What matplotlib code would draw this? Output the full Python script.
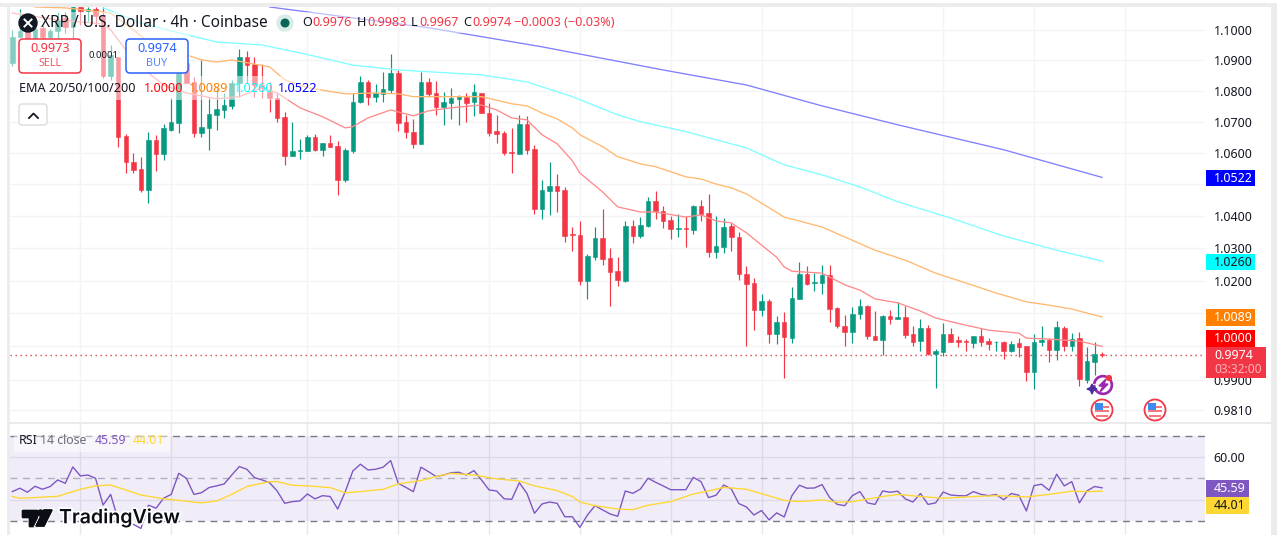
import matplotlib
matplotlib.use('Agg')
import matplotlib.pyplot as plt
from matplotlib.patches import Rectangle, Circle, FancyBboxPatch, Polygon, Wedge
from matplotlib.ticker import NullFormatter, NullLocator
import matplotlib.patheffects as pe

plt.rcParams['font.family'] = ['Noto Sans', 'DejaVu Sans']

# 4h candles
opens = [1.0890,1.0975,1.1010,1.0970,1.1007,1.0977,1.0997,1.1040,1.1010,1.1076,
         1.1063,1.1070,1.1050,1.0849,1.0911,1.0655,1.0572,1.0549,1.0482,1.0642,
         1.0597,1.0674,1.0697,1.0891,1.0829,1.0664,1.0680,1.0722,1.0738,1.0751,
         1.0826,1.0911,1.0888,1.0819,1.0796,1.0777,1.0716,1.0591,1.0607,1.0607,
         1.0652,1.0610,1.0632,1.0623,1.0514,1.0607,1.0764,1.0829,1.0781,1.0790,
         1.0803,1.0858,1.0700,1.0668,1.0629,1.0829,1.0793,1.0748,1.0761,1.0774,
         1.0781,1.0764,1.0793,1.0728,1.0671,1.0664,1.0604,1.0597,1.0693,1.0613,
         1.0422,1.0479,1.0495,1.0482,1.0345,1.0342,1.0199,1.0272,1.0332,1.0269,
         1.0229,1.0199,1.0369,1.0338,1.0369,1.0448,1.0416,1.0388,1.0360,1.0363,
         1.0357,1.0432,1.0410,1.0288,1.0304,1.0369,1.0335,1.0220,1.0193,1.0110,
         1.0138,1.0037,1.0074,1.0025,1.0144,1.0220,1.0193,1.0193,1.0217,1.0116,
         1.0061,1.0043,1.0098,1.0122,1.0031,1.0019,1.0092,1.0083,1.0089,1.0037,
         1.0016,1.0055,0.9977,0.9983,1.0037,1.0019,1.0017,1.0010,1.0031,1.0016,
         1.0012,1.0013,0.9986,1.0010,1.0001,0.9923,1.0013,1.0019,0.9989,1.0055,
         1.0001,1.0025,0.9899,0.9953,0.9976]
highs = [1.0998,1.1070,1.1020,1.1020,1.1015,1.1003,1.1060,1.1060,1.1090,1.1076,
         1.1076,1.1076,1.1076,1.0950,1.0911,1.0661,1.0600,1.0588,1.0668,1.0658,
         1.0693,1.0777,1.0874,1.0900,1.0845,1.0901,1.0781,1.0810,1.0793,1.0836,
         1.0937,1.0931,1.0911,1.0888,1.0829,1.0793,1.0732,1.0700,1.0645,1.0658,
         1.0661,1.0632,1.0658,1.0639,1.0616,1.0793,1.0849,1.0836,1.0823,1.0862,
         1.0921,1.0868,1.0722,1.0709,1.0862,1.0842,1.0832,1.0796,1.0810,1.0787,
         1.0793,1.0823,1.0793,1.0761,1.0722,1.0671,1.0680,1.0722,1.0719,1.0626,
         1.0514,1.0572,1.0533,1.0492,1.0366,1.0385,1.0282,1.0366,1.0422,1.0300,
         1.0272,1.0385,1.0388,1.0397,1.0460,1.0479,1.0432,1.0401,1.0407,1.0401,
         1.0435,1.0451,1.0470,1.0401,1.0394,1.0379,1.0351,1.0245,1.0208,1.0159,
         1.0144,1.0092,1.0104,1.0180,1.0257,1.0245,1.0223,1.0248,1.0248,1.0119,
         1.0095,1.0119,1.0144,1.0125,1.0107,1.0095,1.0110,1.0135,1.0122,1.0061,
         1.0083,1.0064,0.9992,1.0071,1.0055,1.0031,1.0022,1.0031,1.0055,1.0025,
         1.0016,1.0016,1.0016,1.0025,1.0001,1.0037,1.0061,1.0025,1.0077,1.0061,
         1.0040,1.0043,0.9998,1.0013,0.9983]
lows = [1.0882,1.0975,1.0960,1.0970,1.0970,1.0967,1.0960,1.0990,1.0968,1.1017,
        1.1030,1.1017,1.0842,1.0836,1.0620,1.0536,1.0536,1.0476,1.0441,1.0543,
        1.0578,1.0671,1.0664,1.0826,1.0652,1.0652,1.0610,1.0674,1.0712,1.0741,
        1.0781,1.0826,1.0781,1.0777,1.0732,1.0700,1.0562,1.0591,1.0581,1.0607,
        1.0607,1.0591,1.0620,1.0467,1.0508,1.0600,1.0761,1.0754,1.0764,1.0764,
        1.0793,1.0671,1.0648,1.0616,1.0629,1.0781,1.0722,1.0690,1.0709,1.0690,
        1.0700,1.0719,1.0728,1.0655,1.0632,1.0594,1.0536,1.0597,1.0597,1.0407,
        1.0391,1.0404,1.0413,1.0320,1.0291,1.0187,1.0144,1.0263,1.0248,1.0122,
        1.0183,1.0196,1.0316,1.0332,1.0366,1.0391,1.0363,1.0329,1.0335,1.0304,
        1.0345,1.0385,1.0272,1.0269,1.0285,1.0291,1.0202,1.0001,1.0049,1.0092,
        1.0010,1.0007,0.9905,1.0010,1.0144,1.0187,1.0168,1.0159,1.0074,1.0055,
        1.0001,1.0010,1.0083,1.0022,1.0019,0.9974,1.0067,1.0083,1.0025,1.0001,
        0.9986,0.9974,0.9875,0.9971,1.0013,0.9998,0.9986,0.9995,1.0001,0.9989,
        0.9986,0.9962,0.9983,0.9968,0.9896,0.9872,1.0001,0.9953,0.9959,0.9986,
        0.9986,0.9881,0.9890,0.9914,0.9967]
closes = [1.0978,1.0997,1.0967,1.1003,1.0977,1.0997,1.1033,1.1010,1.1076,1.1063,
          1.1070,1.1046,1.0849,1.0917,1.0652,1.0572,1.0546,1.0482,1.0642,1.0597,
          1.0680,1.0700,1.0858,1.0826,1.0664,1.0684,1.0725,1.0741,1.0754,1.0826,
          1.0911,1.0884,1.0819,1.0810,1.0777,1.0712,1.0591,1.0607,1.0610,1.0652,
          1.0610,1.0632,1.0620,1.0514,1.0610,1.0764,1.0829,1.0781,1.0793,1.0806,
          1.0858,1.0697,1.0668,1.0629,1.0829,1.0790,1.0748,1.0764,1.0777,1.0784,
          1.0761,1.0796,1.0728,1.0664,1.0661,1.0600,1.0600,1.0693,1.0610,1.0422,
          1.0482,1.0495,1.0479,1.0338,1.0342,1.0199,1.0276,1.0332,1.0266,1.0226,
          1.0202,1.0369,1.0338,1.0372,1.0448,1.0416,1.0385,1.0360,1.0363,1.0360,
          1.0432,1.0407,1.0288,1.0307,1.0366,1.0335,1.0220,1.0190,1.0110,1.0138,
          1.0037,1.0074,1.0028,1.0147,1.0220,1.0190,1.0196,1.0217,1.0113,1.0061,
          1.0043,1.0098,1.0122,1.0031,1.0019,1.0092,1.0083,1.0089,1.0034,1.0013,
          1.0055,0.9977,0.9986,1.0037,1.0013,1.0013,1.0014,1.0031,1.0013,1.0007,
          1.0014,0.9986,1.0007,0.9998,0.9923,1.0013,1.0019,0.9989,1.0058,1.0001,
          1.0022,0.9902,0.9956,0.9977,0.9974]

# moving averages, read at the bars where they bend
ema20_bars = [0,6,12,13,15,18,20,23,27,30,33,35,38,41,44,45,47,50,53,55,58,62,64,66,68,70,72,74,75,78,
              80,83,85,89,91,93,95,97,99,101,102,103,107,110,112,114,117,120,122,126,129,133,134,137,141,144]
ema20 = [1.1056,1.1033,1.1020,1.1000,1.0934,1.0858,1.0819,1.0793,1.0774,1.0781,1.0810,1.0793,1.0745,1.0716,
         1.0680,1.0684,1.0712,1.0738,1.0719,1.0735,1.0745,1.0754,1.0738,1.0712,1.0706,1.0658,1.0629,1.0575,
         1.0536,1.0476,1.0429,1.0413,1.0413,1.0397,1.0404,1.0385,1.0379,1.0348,1.0310,1.0272,1.0242,1.0229,
         1.0223,1.0187,1.0171,1.0144,1.0132,1.0107,1.0086,1.0064,1.0049,1.0040,1.0025,1.0022,1.0016,1.0000]
ema50_bars = [3,7,13,16,18,21,25,27,29,34,36,39,44,48,51,53,62,66,68,70,72,74,75,78,80,83,85,89,91,93,
              95,97,99,102,107,110,114,118,122,126,130,134,137,140,144]
ema50 = [1.1076,1.1073,1.1056,1.1000,1.0960,1.0934,1.0901,1.0894,1.0901,1.0878,1.0836,1.0810,1.0790,1.0793,
         1.0790,1.0781,1.0781,1.0758,1.0751,1.0728,1.0709,1.0680,1.0658,1.0620,1.0588,1.0565,1.0556,1.0524,
         1.0517,1.0501,1.0489,1.0470,1.0441,1.0397,1.0366,1.0335,1.0294,1.0263,1.0223,1.0193,1.0162,1.0135,
         1.0125,1.0113,1.0089]
ema100_bars = [12,17,22,27,33,38,45,51,62,68,74,80,83,89,93,97,102,107,112,117,124,131,138,144]
ema100 = [1.1073,1.1023,1.0990,1.0960,1.0950,1.0924,1.0884,1.0868,1.0852,1.0829,1.0781,1.0722,1.0700,1.0668,
          1.0642,1.0616,1.0562,1.0530,1.0492,1.0445,1.0394,1.0338,1.0294,1.0260]
ema200_bars = [34,55,70,86,97,107,117,131,144]
ema200 = [1.1076,1.1007,1.0944,1.0868,1.0819,1.0751,1.0690,1.0610,1.0522]

rsi = [43.8,45.4,43.5,46.3,44.9,46.2,49.3,47.7,55.4,51.2,51.6,50.1,37.5,42.5,30.5,29.7,28.4,26.5,37.4,36.0,
       40.7,42.5,52.4,50.1,42.5,43.3,45.7,46.5,47.4,51.6,55.6,54.3,50.4,49.3,48.0,44.1,38.3,39.1,39.4,42.7,
       40.4,41.9,41.5,35.6,43.8,53.5,56.7,54.0,54.3,55.3,58.4,47.7,45.8,43.8,55.3,53.2,50.9,51.6,52.7,52.9,
       51.6,53.7,49.3,44.6,44.1,40.4,40.2,48.0,43.0,33.6,38.0,38.9,38.3,32.0,32.0,27.0,32.8,37.2,35.2,33.3,
       32.2,44.1,43.0,45.0,50.1,48.2,46.5,44.7,44.7,44.7,50.5,48.5,41.0,42.1,46.9,45.1,38.2,36.6,32.8,34.9,
       30.5,33.8,31.9,41.8,46.8,45.4,45.5,47.1,41.0,37.8,37.2,41.9,43.8,38.5,37.8,44.1,43.5,44.0,40.4,38.9,
       42.9,37.8,38.5,43.6,42.2,41.9,41.8,43.8,42.5,41.9,42.4,40.0,42.9,42.1,34.7,46.6,47.3,44.4,52.0,46.5,
       48.5,38.5,44.1,46.2,45.59]
rsi_ma_bars = [0,1,3,6,9,11,13,15,17,20,22,25,27,29,31,34,35,37,39,42,44,46,49,51,54,56,58,61,64,67,
               69,72,74,75,77,80,82,84,87,90,92,94,97,100,102,104,107,109,111,115,117,120,123,126,130,134,137,140,142,144]
rsi_ma = [41.5,40.7,41.0,41.6,44.9,46.5,46.9,44.6,42.2,40.4,39.7,38.5,39.4,42.5,46.2,48.5,48.5,46.8,46.5,45.7,
          43.3,43.8,44.9,47.4,49.0,50.9,52.4,51.6,49.8,48.8,46.5,44.3,41.5,38.9,37.2,35.6,35.3,37.4,39.1,42.7,
          44.1,45.8,44.9,41.8,39.7,39.1,39.9,38.8,39.1,41.5,42.5,41.5,40.7,41.3,41.9,41.3,42.5,44.0,43.8,44.01]

price_ticks = [1.10,1.09,1.08,1.07,1.06,1.05,1.04,1.03,1.02,1.01,1.00,0.99,0.981]
price_labels = ['1.1000','1.0900','1.0800','1.0700','1.0600','','1.0400','1.0300','1.0200','','','0.9900','0.9810']
rsi_ticks = [60,40]
time_grid = [9,21,39,51,63,75,87,99,111,123,135,147]

UP = '#089981'
DOWN = '#f23645'
W, H = 1277, 535

fig = plt.figure(figsize=(W/100, H/100), dpi=100, facecolor='white')

# price pane
ax = fig.add_axes([10/W, (H-423)/H, 1195/W, 416/H])
ax.set_yscale('log')
ax.set_xlim(-0.3, 157.6)
ax.set_ylim(0.9772, 1.1076)
ax.set_yticks(price_ticks)
ax.set_yticklabels(price_labels, fontsize=9.0, color='#131722')
ax.yaxis.tick_right()
ax.yaxis.set_minor_locator(NullLocator())
ax.yaxis.set_minor_formatter(NullFormatter())
ax.tick_params(axis='y', length=0, pad=6.2)
ax.set_xticks(time_grid)
ax.tick_params(axis='x', length=0, labelbottom=False)
ax.grid(True, color='#f4f4f6', lw=1)
ax.set_axisbelow(True)
for s in ax.spines.values():
    s.set_visible(False)

bars = list(range(len(opens)))
colours = [UP if c >= o else DOWN for o, c in zip(opens, closes)]
ax.vlines(bars, lows, highs, colors=colours, lw=0.85, zorder=3)
ax.bar(bars, [abs(c-o) for o, c in zip(opens, closes)], bottom=[min(o, c) for o, c in zip(opens, closes)],
       width=0.6, color=colours, edgecolor=colours, lw=0.4, zorder=3)

ax.plot(ema20_bars, ema20, color='#ff8a8a', lw=0.95, zorder=4)
ax.plot(ema50_bars, ema50, color='#ffb870', lw=0.95, zorder=4)
ax.plot(ema100_bars, ema100, color='#80ffff', lw=0.95, zorder=4)
ax.plot(ema200_bars, ema200, color='#8080ff', lw=0.95, zorder=4)
ax.axhline(closes[-1], color='#d8404c', lw=1, ls=(0, (1, 2.6)), zorder=2)

# rsi pane
ax2 = fig.add_axes([10/W, 0, 1195/W, (H-424)/H])
ax2.set_xlim(-0.3, 157.6)
ax2.set_ylim(23.4, 75.6)
ax2.axhspan(30, 70, color='#7e57c2', alpha=0.1, lw=0)
ax2.axhline(70, color='#787b86', lw=1, ls=(0, (5, 4)))
ax2.axhline(50, color='#b2aebd', lw=1, ls=(0, (5, 4)))
ax2.axhline(30, color='#787b86', lw=1, ls=(0, (5, 4)))
ax2.set_xticks(time_grid)
ax2.set_yticks(rsi_ticks)
ax2.set_yticklabels(['60.00', ''], fontsize=9.0, color='#131722')
ax2.yaxis.tick_right()
ax2.tick_params(axis='y', length=0, pad=6.2)
ax2.tick_params(axis='x', length=0, labelbottom=False)
ax2.grid(True, color='#e9e8ef', lw=1)
ax2.set_axisbelow(True)
for s in ax2.spines.values():
    s.set_visible(False)
ax2.plot(bars, rsi, color='#7e57c2', lw=1.0, zorder=3)
ax2.plot(rsi_ma_bars, rsi_ma, color='#fdd835', lw=1.0, zorder=4)

# everything drawn on top of the panes, in pixel coordinates
ov = fig.add_axes([0, 0, 1, 1], zorder=10)
ov.set_xlim(0, W)
ov.set_ylim(H, 0)
ov.axis('off')
ov.patch.set_alpha(0)


def rect(x0, y0, x1, y1, **kw):
    ov.add_patch(Rectangle((x0, y0), x1-x0, y1-y0, lw=kw.pop('lw', 0), **kw))


def tag(x0, y0, x1, y1, bg, label, fg='white'):
    rect(x0, y0, x1, y1, color=bg)
    ov.text(x0+8, (y0+y1)/2, label, color=fg, fontsize=9.0, va='center', ha='left', weight='medium')


# window frame
rect(0, 3, W, 7, color='#ececec')
rect(7, 3, 10, H, color='#ececec')
rect(1271, 3, W, H, color='#ececec')
ov.plot([10, 1271], [423, 423], color='#e8e8ea', lw=1.2)

# legend washes
rect(10, 12, 625, 33, color='white', alpha=0.5)
rect(10, 33, 190, 76, color='white', alpha=0.5)
rect(10, 76, 320, 100, color='white', alpha=0.5)
rect(14, 436, 170, 452, color='white', alpha=0.5)

# header
ov.add_patch(Circle((28, 23), 9, color='#131722'))
ov.plot([24.5, 31.5], [19.5, 26.5], color='white', lw=1.4)
ov.plot([24.5, 31.5], [26.5, 19.5], color='white', lw=1.4)
ov.text(41, 23, 'XRP / U.S. Dollar · 4h · Coinbase', fontsize=11.1, color='#131722', va='center')
ov.add_patch(Circle((285, 23), 8, color='#d9ece8'))
ov.add_patch(Circle((285, 23), 3.8, color='#056656'))
ohlc_row = [(302, 'O', '#131722'), (312, '0.9976', DOWN), (357, 'H', '#131722'), (367, '0.9983', DOWN),
            (411, 'L', '#131722'), (419, '0.9967', DOWN), (463, 'C', '#131722'), (472, '0.9974', DOWN),
            (514, '−0.0003 (−0.03%)', DOWN)]
for x, s, c in ohlc_row:
    ov.text(x, 23, s, fontsize=9.1, color=c, va='center')

# sell / buy buttons
for x0, c, price, word, soft in [(19, DOWN, '0.9973', 'SELL', '#f7525f'), (126, '#2962ff', '0.9974', 'BUY', '#5b85ff')]:
    ov.add_patch(FancyBboxPatch((x0+3, 42), 56, 28, boxstyle='round,pad=3,rounding_size=4', fc='white', ec=c, lw=1.1))
    ov.text(x0+31, 49, price, fontsize=9.2, color=c, ha='center', va='center')
    ov.text(x0+31, 63, word, fontsize=7.8, color=soft, ha='center', va='center')
ov.text(103, 56, '0.0001', fontsize=6.8, color='#131722', ha='center', va='center')

# ema legend
ov.text(19, 89, 'EMA 20/50/100/200', fontsize=9.1, color='#131722', va='center')
for x, s, c in [(144, '1.0000', '#ff0000'), (189, '1.0089', '#ff8000'), (234, '1.0260', '#00ffff'), (278, '1.0522', '#0000ff')]:
    ov.text(x, 89, s, fontsize=9.1, color=c, va='center')
ov.add_patch(FancyBboxPatch((21, 106), 24, 17, boxstyle='round,pad=2,rounding_size=3', fc='white', ec='#dcdcdc', lw=1))
ov.plot([29, 33.5, 38], [118, 113.5, 118], color='#131722', lw=1.3)

# rsi legend
ov.text(19, 441, 'RSI', fontsize=8.9, color='#131722', va='center')
ov.text(40, 441, '14 close', fontsize=8.9, color='#6a6d78', va='center')
ov.text(95, 441, '45.59', fontsize=8.9, color='#7e57c2', va='center')
ov.text(133, 441, '44.01', fontsize=8.9, color='#fdd835', va='center')

# price tags on the right
tag(1206, 170, 1255, 186, '#0000ff', '1.0522')
tag(1206, 254, 1255, 270, '#00ffff', '1.0260', '#131722')
tag(1206, 309, 1255, 326, '#ff8000', '1.0089')
tag(1206, 330, 1255, 347, '#ff0000', '1.0000')
rect(1206, 347, 1266, 378, color=DOWN)
ov.text(1214, 355.5, '0.9974', fontsize=9.0, color='white', va='center', weight='medium')
ov.text(1214, 369.5, '03:32:00', fontsize=8.6, color='#fbb4ba', va='center')
tag(1206, 480, 1249, 497, '#7e57c2', '45.59')
tag(1206, 497, 1249, 514, '#fdd835', '44.01', '#131722')

# event flags
for cx in [1102, 1155]:
    ov.add_patch(Circle((cx, 410), 10.5, fc='white', ec=DOWN, lw=1.3))
    for sy in [406.5, 411, 415.5]:
        half = 7 if sy != 415.5 else 6
        rect(cx-half, sy-1, cx+half, sy+1, color='#f7777f')
    rect(cx-7, 403, cx+1, 410, color='#3d8bef')

# lightning badge
ov.add_patch(Wedge((1103, 385), 9.5, -60, 175, width=1.3, color='#9c27b0'))
ov.add_patch(Wedge((1103, 385), 9.5, 190, 290, width=1.3, color='#9c27b0'))
ov.add_patch(Polygon([(1106, 379), (1099, 386), (1103, 386), (1100, 392), (1108, 384), (1104, 384)], color='#9c27b0'))
ov.add_patch(Circle((1109, 378), 2.4, color=DOWN))
ov.add_patch(Polygon([(1092, 384), (1093.6, 387.6), (1097, 389), (1093.6, 390.4), (1092, 394), (1090.4, 390.4), (1087, 389), (1090.4, 387.6)], color='#4a2fa0'))

# tradingview mark
halo = [pe.withStroke(linewidth=2.5, foreground='white')]
for pts in ([(22, 510), (37, 510), (37, 526), (29, 526), (29, 517), (22, 517)],
            [(44, 510), (52, 510), (44, 526), (36, 526)]):
    p = Polygon(pts, color='#0b0e14')
    p.set_path_effects(halo + [pe.Normal()])
    ov.add_patch(p)
ov.add_patch(Circle((40.5, 513), 3, color='#0b0e14'))
ov.text(59, 518, 'TradingView', fontsize=14.1, family='Inter', weight='semibold', color='#0b0e14', va='center',
        path_effects=halo)

fig.savefig('out.png', dpi=100, facecolor='white')
